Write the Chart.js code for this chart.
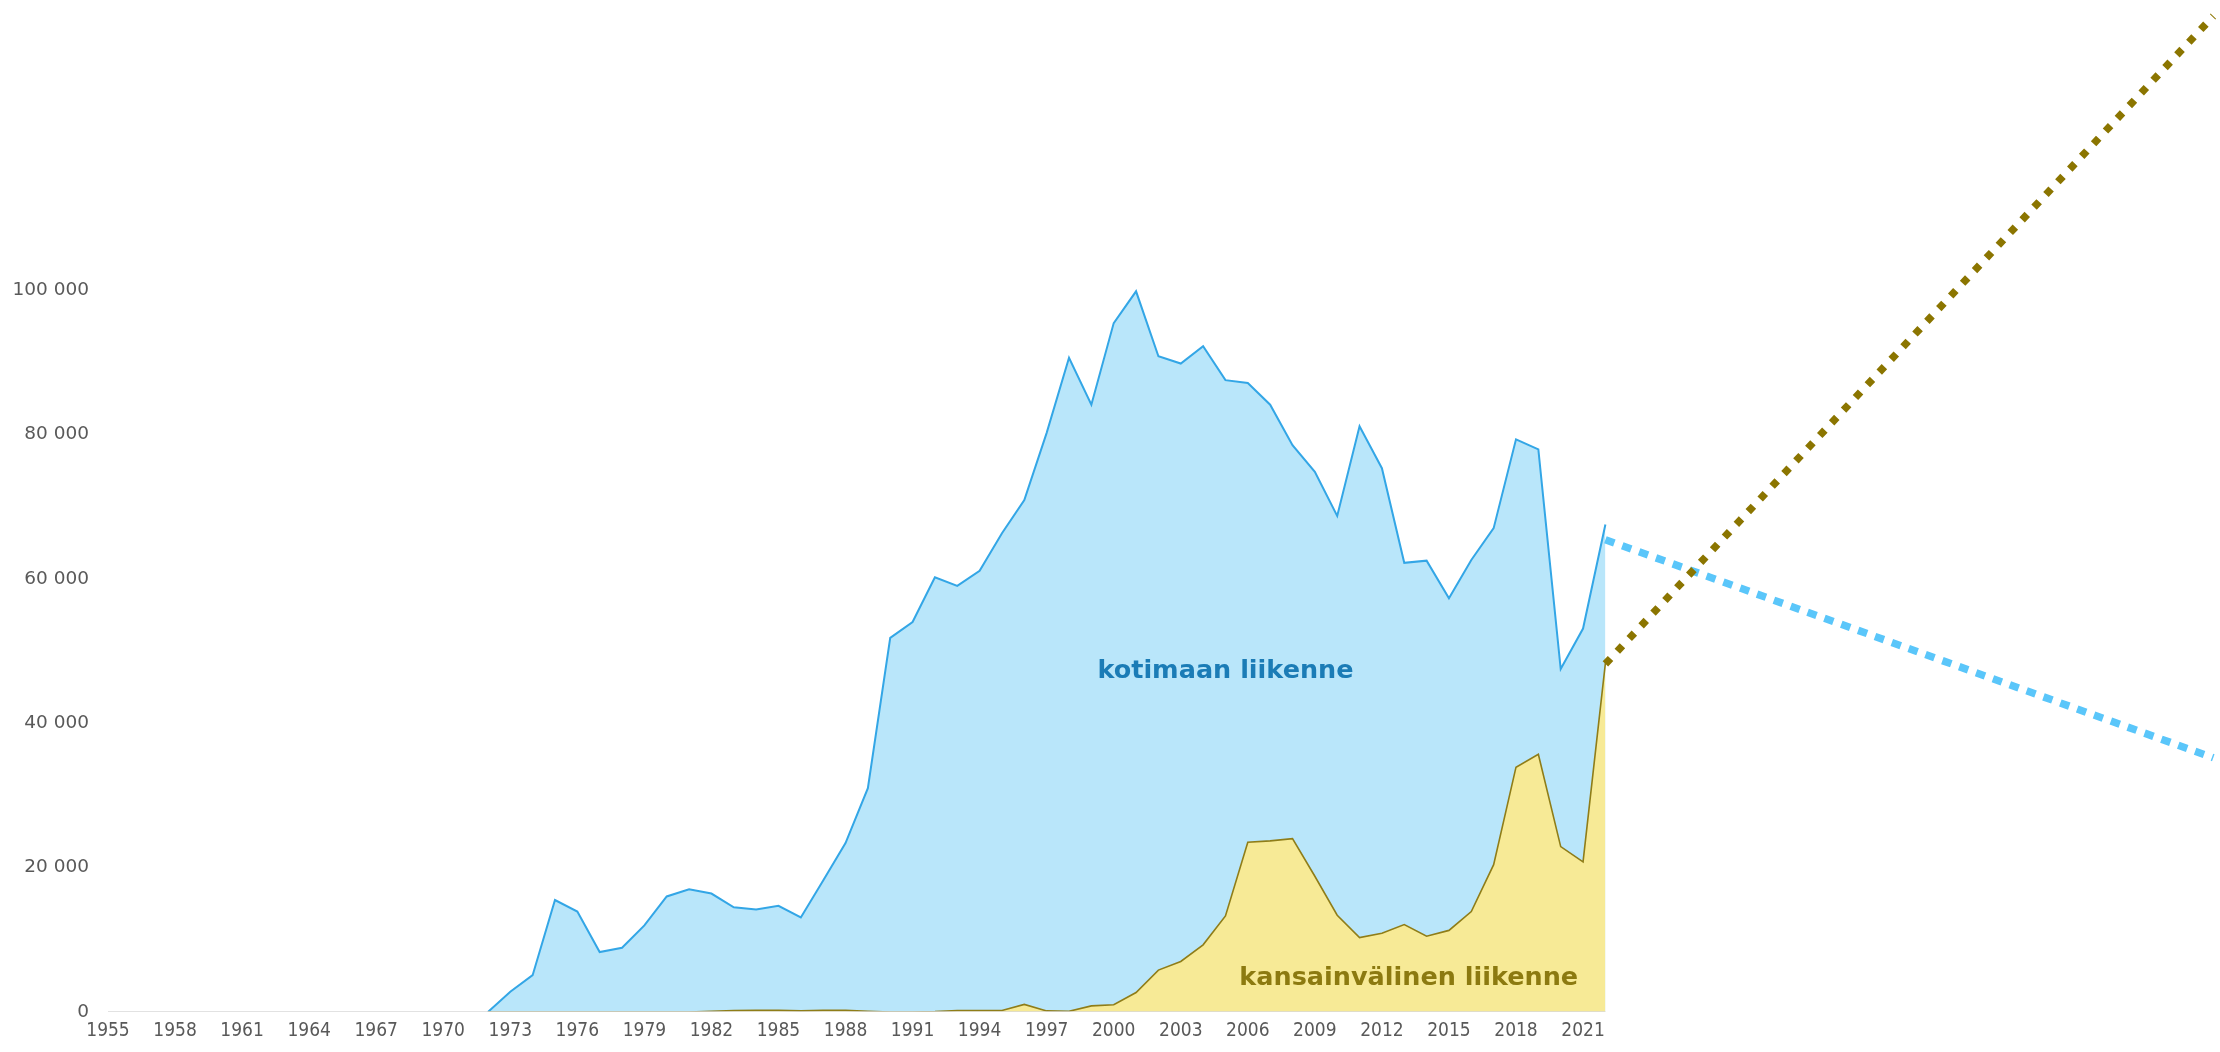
<!DOCTYPE html>
<html lang="fi">
<head>
    <meta charset="UTF-8">
    <title>Liikenne 1955–2022</title>
    <style>
        body {
            margin: 0;
            background-color: #fff;
        }
        canvas {
            display: block;
        }
    </style>
    <script src="https://cdn.jsdelivr.net/npm/chart.js"></script>
</head>
<body>
    <canvas id="trafficChart" width="2220" height="1052"></canvas>
    <script>
        // Vuosisarjat
        const axisStartYear = 1955;
        const years = [
            1972, 1973, 1974, 1975, 1976, 1977, 1978, 1979, 1980, 1981,
            1982, 1983, 1984, 1985, 1986, 1987, 1988, 1989, 1990, 1991,
            1992, 1993, 1994, 1995, 1996, 1997, 1998, 1999, 2000, 2001,
            2002, 2003, 2004, 2005, 2006, 2007, 2008, 2009, 2010, 2011,
            2012, 2013, 2014, 2015, 2016, 2017, 2018, 2019, 2020, 2021,
            2022
        ];
        const domestic = [
            0, 2800, 5100, 15500, 13900, 8300, 8900, 12000, 16000, 17000,
            16400, 14500, 14200, 14700, 13100, 18200, 23400, 31000, 51800, 54000,
            60200, 59000, 61100, 66300, 70900, 80200, 90600, 84100, 95400, 99800,
            90800, 89800, 92200, 87500, 87100, 84100, 78500, 74800, 68700, 81100,
            75300, 62200, 62500, 57300, 62600, 67000, 79300, 77900, 47500, 53100,
            67500
        ];
        const international = [
            0, 0, 0, 0, 0, 0, 0, 0, 0, 0,
            100, 200, 250, 250, 150, 250, 250, 100, 0, 0,
            50, 200, 200, 200, 1050, 150, 100, 850, 1000, 2700,
            5800, 7000, 9300, 13300, 23500, 23700, 24000, 18800, 13400, 10300,
            10900, 12100, 10500, 11300, 13900, 20400, 33900, 35700, 22900, 20800,
            48300
        ];

        // Suuntaviivat vuodesta 2022 eteenpäin
        const trendYears = [2022, 2049.2];
        const domesticTrend = [65400, 35200];
        const internationalTrend = [48200, 137900];

        // Akselien jaotus
        const xTickYears = [
            1955, 1958, 1961, 1964, 1967, 1970, 1973, 1976, 1979, 1982, 1985, 1988,
            1991, 1994, 1997, 2000, 2003, 2006, 2009, 2012, 2015, 2018, 2021
        ];
        const yTickValues = [0, 20000, 40000, 60000, 80000, 100000];

        // Aluenimet kuvaajan sisällä
        const areaLabels = [
            { text: 'kotimaan liikenne', year: 2005.0, value: 46200, color: '#1b7cb6' },
            { text: 'kansainvälinen liikenne', year: 2013.2, value: 3700, color: '#8c7a10' }
        ];

        const toPoints = (xs, ys) => xs.map((x, i) => ({ x: x, y: ys[i] }));
        const formatThousands = v => String(v).replace(/\B(?=(\d{3})+(?!\d))/g, ' ');

        // Akselien nimiöt eivät saa kaventaa piirtoaluetta
        const noScalePadding = scale => {
            scale.paddingTop = 0;
            scale.paddingBottom = 0;
            scale.paddingLeft = 0;
            scale.paddingRight = 0;
        };

        // Piirtää aluenimet kuvaajan päälle
        const areaLabelPlugin = {
            id: 'areaLabels',
            afterDatasetsDraw(chart) {
                const ctx = chart.ctx;
                const xScale = chart.scales.x;
                const yScale = chart.scales.y;
                ctx.save();
                ctx.font = 'bold 25.5px "DejaVu Sans", Verdana, sans-serif';
                ctx.textAlign = 'center';
                ctx.textBaseline = 'alphabetic';
                areaLabels.forEach(label => {
                    ctx.fillStyle = label.color;
                    ctx.fillText(label.text, xScale.getPixelForValue(label.year), yScale.getPixelForValue(label.value));
                });
                ctx.restore();
            }
        };

        const ctx = document.getElementById('trafficChart').getContext('2d');
        const trafficChart = new Chart(ctx, {
            type: 'line',
            data: {
                datasets: [
                    {
                        label: 'kotimaan liikenne',
                        data: toPoints(years, domestic),
                        borderColor: '#33a6e6',
                        borderWidth: 2,
                        backgroundColor: '#b9e6fa',
                        fill: 'origin',
                        pointRadius: 0,
                        order: 5
                    },
                    {
                        label: 'kansainvälinen liikenne',
                        data: toPoints(years, international),
                        borderColor: '#8f7d18',
                        borderWidth: 1.6,
                        backgroundColor: '#f7ea96',
                        fill: 'origin',
                        pointRadius: 0,
                        order: 4
                    },
                    {
                        // x-akselin viiva vain havaintojen kohdalle
                        label: 'akseli',
                        data: toPoints([axisStartYear, years[years.length - 1]], [0, 0]),
                        borderColor: '#d9d9d9',
                        borderWidth: 1.6,
                        fill: false,
                        pointRadius: 0,
                        order: 3
                    },
                    {
                        label: 'kotimaan suunta',
                        data: toPoints(trendYears, domesticTrend),
                        borderColor: '#5ac6fa',
                        borderWidth: 7.5,
                        borderDash: [9.5, 8.4],
                        borderCapStyle: 'butt',
                        fill: false,
                        pointRadius: 0,
                        order: 2
                    },
                    {
                        label: 'kansainvälinen suunta',
                        data: toPoints(trendYears, internationalTrend),
                        borderColor: '#8b7500',
                        borderWidth: 7.5,
                        borderDash: [7.5, 9.9],
                        borderCapStyle: 'butt',
                        fill: false,
                        pointRadius: 0,
                        order: 1
                    }
                ]
            },
            options: {
                responsive: false,
                devicePixelRatio: 1,
                animation: false,
                layout: { padding: { top: 1, right: 0, bottom: 0, left: 0 } },
                plugins: {
                    legend: { display: false },
                    tooltip: { enabled: false }
                },
                elements: { line: { tension: 0 } },
                scales: {
                    x: {
                        type: 'linear',
                        min: axisStartYear,
                        max: 2049.5,
                        afterBuildTicks: scale => {
                            scale.ticks = xTickYears.map(v => ({ value: v }));
                        },
                        afterFit: scale => {
                            scale.height = 40;
                            noScalePadding(scale);
                        },
                        grid: { display: false, drawTicks: false },
                        border: { display: false },
                        ticks: {
                            autoSkip: false,
                            maxRotation: 0,
                            padding: 8,
                            color: '#595959',
                            font: { family: '"DejaVu Sans Condensed", Tahoma, sans-serif', size: 19 },
                            callback: v => String(v)
                        }
                    },
                    y: {
                        min: 0,
                        max: 140000,
                        afterBuildTicks: scale => {
                            scale.ticks = yTickValues.map(v => ({ value: v }));
                        },
                        afterFit: scale => {
                            scale.width = 108;
                            noScalePadding(scale);
                        },
                        grid: { display: false, drawTicks: false },
                        border: { display: false },
                        ticks: {
                            padding: 19,
                            color: '#595959',
                            font: { family: '"DejaVu Sans", Verdana, sans-serif', size: 18.5 },
                            callback: v => formatThousands(v)
                        }
                    }
                }
            },
            plugins: [areaLabelPlugin]
        });
    </script>
</body>
</html>
